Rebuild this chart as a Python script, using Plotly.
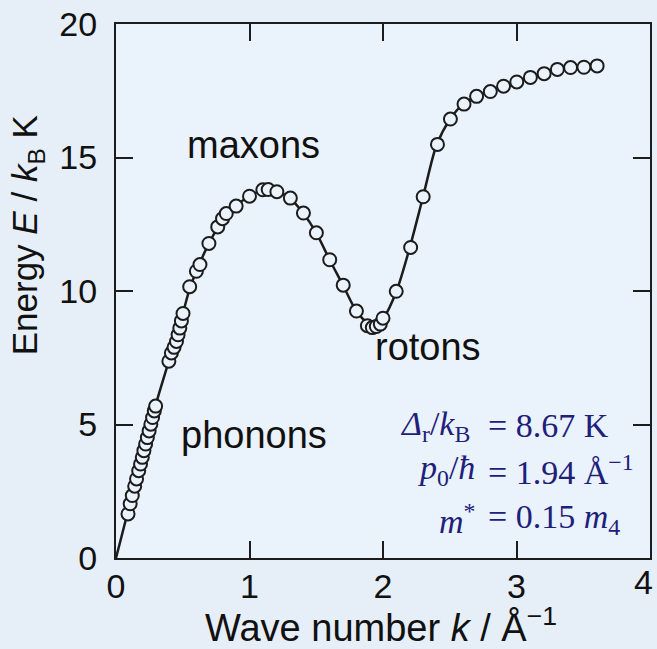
import plotly.graph_objects as go

# measured data points (wave number k in 1/Å, energy E in K)
data_k = [0.090, 0.106, 0.122, 0.140, 0.154, 0.170, 0.184, 0.197, 0.209, 0.222,
          0.235, 0.248, 0.261, 0.274, 0.287, 0.297,
          0.396, 0.415, 0.435, 0.453, 0.465, 0.478, 0.490, 0.502,
          0.552, 0.602, 0.629, 0.696, 0.762, 0.798, 0.826, 0.900, 1.000,
          1.100, 1.140, 1.205, 1.306, 1.404, 1.501, 1.601, 1.702, 1.801,
          1.883, 1.920, 1.950, 1.980, 2.000, 2.099, 2.207, 2.301, 2.408,
          2.505, 2.607, 2.701, 2.804, 2.903, 3.002, 3.104, 3.207, 3.306,
          3.405, 3.505, 3.604]
data_E = [1.65, 2.03, 2.34, 2.69, 2.96, 3.27, 3.52, 3.77, 4.02, 4.27,
          4.51, 4.76, 5.01, 5.26, 5.51, 5.69,
          7.37, 7.68, 7.89, 8.11, 8.36, 8.61, 8.88, 9.16,
          10.16, 10.74, 10.99, 11.78, 12.40, 12.71, 12.90, 13.18, 13.55,
          13.79, 13.80, 13.72, 13.48, 12.92, 12.18, 11.17, 10.22, 9.25,
          8.70, 8.63, 8.67, 8.76, 8.98, 9.99, 11.63, 13.53, 15.49,
          16.44, 17.00, 17.29, 17.47, 17.67, 17.83, 18.00, 18.14, 18.30,
          18.37, 18.38, 18.43]

# dispersion curve
curve_k = [0, 0.1, 0.2, 0.3, 0.4, 0.5, 0.55, 0.6, 0.7, 0.8, 0.9, 1.0, 1.1, 1.2,
           1.3, 1.4, 1.5, 1.6, 1.7, 1.8, 1.9, 1.94, 2.0, 2.1, 2.2, 2.3, 2.4,
           2.5, 2.6, 2.7, 2.8, 2.9, 3.0, 3.1, 3.2, 3.3, 3.4, 3.5, 3.6]
curve_E = [0, 1.95, 3.85, 5.78, 7.45, 9.15, 10.05, 10.72, 11.82, 12.67, 13.2,
           13.55, 13.78, 13.74, 13.48, 12.93, 12.18, 11.17, 10.22, 9.25, 8.72,
           8.67, 8.95, 9.98, 11.62, 13.53, 15.45, 16.42, 17.0, 17.29, 17.47,
           17.67, 17.83, 18.0, 18.14, 18.28, 18.36, 18.39, 18.43]

x_ticks = [0, 1, 2, 3, 4]
y_ticks = [0, 5, 10, 15, 20]

ink = "#1c1c1c"
navy = "#20207a"
bg = "#e6eef8"
plot_bg = "#eaf2fb"

fig = go.Figure()
fig.add_trace(go.Scatter(x=curve_k, y=curve_E, mode="lines",
                         line=dict(color=ink, width=2.5, shape="spline", smoothing=0.8),
                         hoverinfo="skip", showlegend=False))
fig.add_trace(go.Scatter(x=data_k, y=data_E, mode="markers",
                         marker=dict(symbol="circle", size=13, color=plot_bg,
                                     line=dict(color=ink, width=2)),
                         showlegend=False))

tick_font = dict(family="Liberation Sans, Arial", size=34, color="#111")
axis_common = dict(showline=True, linewidth=2, linecolor=ink, mirror="ticks",
                   ticks="inside", ticklen=17, tickwidth=2, tickcolor=ink,
                   showgrid=False, zeroline=False, tickfont=tick_font)

fig.update_xaxes(range=[0, 4], tickvals=x_ticks[:-1],
                 ticktext=[str(v) for v in x_ticks[:-1]],
                 ticklabelstandoff=-3, **axis_common)
fig.update_yaxes(range=[0, 20], tickvals=y_ticks, ticktext=[str(v) for v in y_ticks],
                 ticklabelstandoff=10, **axis_common)

label_font = dict(family="Liberation Sans, Arial", size=38, color="#111")
serif = dict(family="Liberation Serif, Times New Roman", size=34, color=navy)

ann = []
# last x tick label, kept at the right edge of the page
ann.append(dict(x=1.0093, y=0, xref="paper", yref="y", text=str(x_ticks[-1]),
                showarrow=False, font=tick_font, xanchor="right", yanchor="top",
                yshift=-3))
ann.append(dict(x=1.03, y=15.45, xref="x", yref="y", text="maxons", showarrow=False,
                font=label_font, xanchor="center", yanchor="middle"))
ann.append(dict(x=1.03, y=4.62, xref="x", yref="y", text="phonons", showarrow=False,
                font=label_font, xanchor="center", yanchor="middle"))
ann.append(dict(x=2.336, y=7.9, xref="x", yref="y", text="rotons", showarrow=False,
                font=label_font, xanchor="center", yanchor="middle"))

# parameter block, aligned on the "=" sign
left_parts = ["<i>Δ</i><sub>r</sub>/<i>k</i><sub>B</sub>",
              "<i>p</i><sub>0</sub>/<i>ħ</i>",
              "<i>m</i><sup>*</sup>"]
right_parts = ["= 8.67 K", "= 1.94 Å<sup>−1</sup>", "= 0.15 <i>m</i><sub>4</sub>"]
left_x = [2.67, 2.705, 2.705]
rows_y = [4.95, 3.30, 1.45]
for lp, rp, lx, ry in zip(left_parts, right_parts, left_x, rows_y):
    ann.append(dict(x=lx, y=ry, xref="x", yref="y", text=lp, showarrow=False,
                    font=serif, xanchor="right", yanchor="middle"))
    ann.append(dict(x=2.77, y=ry, xref="x", yref="y", text=rp, showarrow=False,
                    font=serif, xanchor="left", yanchor="middle"))

# axis titles
ann.append(dict(x=0.496, y=-0.125, xref="paper", yref="paper",
                text="Wave number <i>k</i> / Å<sup>−1</sup>", showarrow=False,
                font=dict(family="Liberation Sans, Arial", size=38, color="#111"),
                xanchor="center", yanchor="middle"))
ann.append(dict(x=-0.166, y=0.605, xref="paper", yref="paper",
                text="Energy <i>E</i> / <i>k</i><sub>B</sub> K", showarrow=False,
                font=dict(family="Liberation Sans, Arial", size=35, color="#111"),
                textangle=-90, xanchor="center", yanchor="middle"))

fig.update_layout(width=657, height=649,
                  margin=dict(l=116, r=5, t=21, b=91),
                  paper_bgcolor=bg, plot_bgcolor=plot_bg,
                  annotations=ann, showlegend=False)

fig.write_html("out.html")
